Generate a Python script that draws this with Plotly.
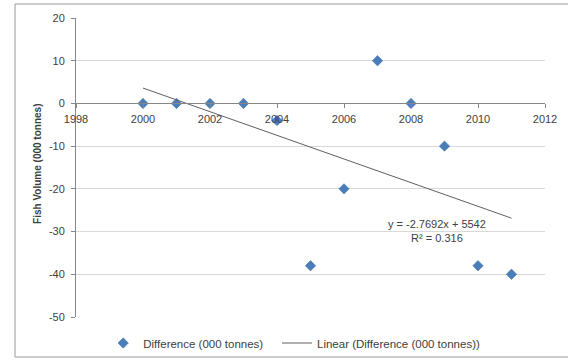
import plotly.graph_objects as go

# Yearly change in fish volume (thousand tonnes)
years = [2000, 2001, 2002, 2003, 2004, 2005, 2006, 2007, 2008, 2009, 2010, 2011]
difference = [0, 0, 0, 0, -4, -38, -20, 10, 0, -10, -38, -40]

# Linear trendline coefficients and fit quality
trend_slope = -2.7692
trend_intercept = 5542
trend_r2 = 0.316

x_ticks = [1998, 2000, 2002, 2004, 2006, 2008, 2010, 2012]
y_ticks = [20, 10, 0, -10, -20, -30, -40, -50]

FONT = "Liberation Sans"
TEXT = "#404040"
AXIS = "#868686"
GRID = "#d9d9d9"

trend_x = [years[0], years[-1]]
trend_y = [trend_slope * x + trend_intercept for x in trend_x]

fig = go.Figure()
fig.add_trace(go.Scatter(
    x=years, y=difference, mode="markers",
    name="Difference (000 tonnes)",
    marker=dict(symbol="diamond", size=8, color="#4a7ebb",
                line=dict(width=0.5, color="#3d6ca3")),
    legend="legend",
))
fig.add_trace(go.Scatter(
    x=trend_x, y=trend_y, mode="lines",
    name="Linear (Difference (000 tonnes))",
    line=dict(color="#5f5f5f", width=1),
    legend="legend2",
))

legend_common = dict(orientation="h", y=-0.087,
                     xanchor="left", yanchor="middle",
                     font=dict(size=11.5, color=TEXT), bgcolor="rgba(0,0,0,0)")

fig.update_layout(
    width=568, height=360,
    margin=dict(l=76, r=23, t=18, b=43, autoexpand=False),
    paper_bgcolor="white", plot_bgcolor="white",
    font=dict(family=FONT, size=11, color=TEXT),
    showlegend=True,
    legend=dict(x=0.058, **legend_common),
    legend2=dict(x=0.4286, **legend_common),
    xaxis=dict(
        range=[1998, 2012], tickvals=x_ticks, ticktext=[str(v) for v in x_ticks],
        showgrid=False, zeroline=False,
        showline=True, linecolor=AXIS, linewidth=1,
        ticks="outside", ticklen=4, tickcolor=AXIS,
        anchor="free", position=5 / 7,
        ticklabelstandoff=1,
        tickfont=dict(size=11, color=TEXT),
    ),
    yaxis=dict(
        range=[-50, 20], tickvals=y_ticks, ticktext=[str(v) for v in y_ticks],
        showgrid=True, gridcolor=GRID, gridwidth=1, zeroline=False,
        showline=True, linecolor=AXIS, linewidth=1,
        ticks="outside", ticklen=4, tickcolor=AXIS,
        ticklabelstandoff=4,
        tickfont=dict(size=11, color=TEXT),
    ),
    shapes=[dict(type="rect", xref="paper", yref="paper",
                 x0=-0.130, x1=1.06, y0=-0.1338, y1=1.0468,
                 line=dict(color="#9a9a9a", width=1), layer="below")],
    annotations=[
        dict(text="<b>Fish Volume (000 tonnes)</b>", textangle=-90,
             xref="paper", yref="paper", x=-0.081, y=0.512,
             xanchor="center", yanchor="middle",
             showarrow=False, font=dict(size=10, color=TEXT)),
        dict(text=f"y = {trend_slope}x + {trend_intercept}<br>R² = {trend_r2}",
             xref="x", yref="y", x=2008.78, y=-29.75,
             xanchor="center", yanchor="middle",
             showarrow=False, align="center", font=dict(size=11, color=TEXT)),
    ],
)

fig.write_html("out.html")
